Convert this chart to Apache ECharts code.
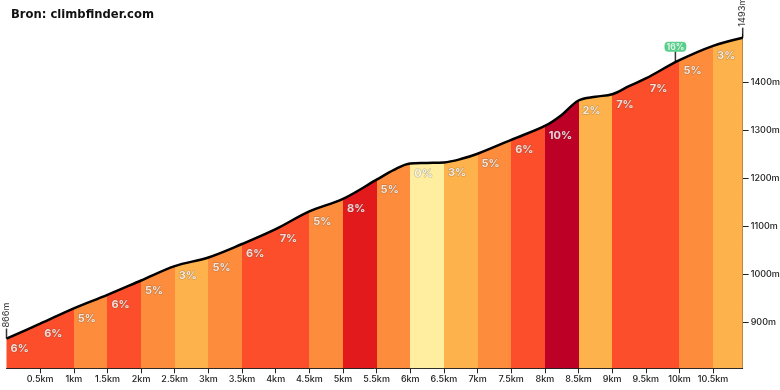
<!DOCTYPE html>
<html><head><meta charset="utf-8">
<script src="https://cdn.jsdelivr.net/npm/echarts@6/dist/echarts.min.js"></script>
<style>html,body{margin:0;padding:0;background:#fff}#c{width:780px;height:390px}</style>
</head><body><div id="c"></div>
<script>
// profile: distance (km) and elevation (m)
const distKm = [0, 0.5, 1, 1.5, 2, 2.5, 3, 3.5, 4, 4.5, 5, 5.5, 5.75, 6, 6.25, 6.5, 6.75, 7, 7.5, 8, 8.25, 8.5, 8.75, 9, 9.25, 9.5, 10, 10.5, 10.94];
const elevM  = [866, 897, 929, 957, 987, 1017, 1035, 1063, 1094, 1131, 1157, 1197, 1217, 1231, 1232, 1233, 1240, 1251, 1280, 1309, 1332, 1362, 1370, 1375, 1392, 1408, 1446, 1476, 1493];
// segment gradients, one per 0.5 km
const segStartKm = [0,0.5,1,1.5,2,2.5,3,3.5,4,4.5,5,5.5,6,6.5,7,7.5,8,8.5,9,9.5,10,10.5];
const segGrade   = [6,6,5,6,5,3,5,6,7,5,8,5,0,3,5,6,10,2,7,7,5,3];
const totalKm = 10.94;
const startElev = 866, endElev = 1493;
const maxGrade = 16, maxGradeKm = 9.94, maxGradeElev = 1443;
const yTicks = [900, 1000, 1100, 1200, 1300, 1400];

function gradeColor(g){
  if (g <= 1) return '#FFEDA0';
  if (g <= 3) return '#FEB24C';
  if (g <= 5) return '#FD8D3C';
  if (g <= 7) return '#FC4E2A';
  if (g <= 9) return '#E31A1C';
  return '#BD0026';
}
const profile = distKm.map((d,i)=>[d, elevM[i]]);
const pieces = segStartKm.map((s,i)=>{
  const e = i < segStartKm.length-1 ? segStartKm[i+1] : totalKm + 0.01;
  return {gte: s, lt: e, color: gradeColor(segGrade[i])};
});
const labelData = segStartKm.map((s,i)=>{
  const j = distKm.indexOf(s);
  return {value:[s, elevM[j]], grade: segGrade[i]};
});

const chart = echarts.init(document.getElementById('c'), null, {renderer:'canvas'});
const axisFont = 'Inter';
chart.setOption({
  animation:false,
  title:{text:'Bron: climbfinder.com', left:6, top:4,
    textStyle:{fontFamily:'DejaVu Sans', fontWeight:'bold', fontSize:11.6, color:'#111'}},
  grid:{left:6.5, right:37.3, top:34.3, bottom:21.7, containLabel:false, outerBoundsMode:'none'},
  xAxis:{type:'value', min:0, max:totalKm, interval:0.5,
    axisLine:{onZero:false, lineStyle:{color:'#222', width:1}},
    axisTick:{length:5, lineStyle:{color:'#222'}},
    splitLine:{show:false},
    axisLabel:{showMinLabel:false, showMaxLabel:false, fontFamily:axisFont, fontWeight:500, fontSize:9, color:'#222', margin:6,
      formatter:v=>v+'km'}},
  yAxis:{type:'value', position:'right', min:804, max:1500,
    axisLine:{show:true, onZero:false, lineStyle:{color:'#222', width:1}},
    axisTick:{show:true, length:6, customValues:yTicks, lineStyle:{color:'#222'}},
    splitLine:{show:false},
    axisLabel:{customValues:yTicks, fontFamily:axisFont, fontWeight:500, fontSize:9, color:'#222', margin:8,
      formatter:v=>v+'m'}},
  visualMap:{show:false, type:'piecewise', dimension:0, seriesIndex:0, pieces:pieces},
  series:[
    {type:'line', data:profile, smooth:0.35, symbol:'none',
      lineStyle:{width:0}, areaStyle:{opacity:1}, z:1},
    {type:'line', data:profile, smooth:0.35, symbol:'none',
      lineStyle:{width:2.5, color:'#000'}, z:5},
    {type:'scatter', data:labelData, symbolSize:1, itemStyle:{color:'rgba(0,0,0,0)'}, z:6,
      label:{show:true, position:'inside', align:'left', verticalAlign:'middle', offset:[4,10],
        formatter:p=>p.data.grade+'%', color:'#fff', fontFamily:axisFont, fontWeight:'bold', fontSize:11,
        textBorderColor:'rgba(60,60,60,0.4)', textBorderWidth:1}},
    {type:'scatter', data:[[0,startElev],[totalKm,endElev]], symbol:'rect', symbolSize:[1.5,10], symbolOffset:[0,-5],
      itemStyle:{color:'#000'}, z:7,
      label:{show:true, position:'top', distance:1, rotate:90, align:'left', verticalAlign:'middle',
        formatter:p=>p.value[1]+'m', color:'#111', fontFamily:axisFont, fontWeight:500, fontSize:9}},
    {type:'scatter', data:[[maxGradeKm, maxGradeElev]], symbol:'rect', symbolSize:[1.5,10], symbolOffset:[0,-5],
      itemStyle:{color:'#000'}, z:7,
      label:{show:true, position:'top', distance:0, formatter:()=>maxGrade+'%', color:'#fff',
        backgroundColor:'#2DC26B', borderRadius:4, padding:[1,2,0,2], fontFamily:axisFont, fontWeight:'bold', fontSize:8.5}}
  ]
});
</script></body></html>
